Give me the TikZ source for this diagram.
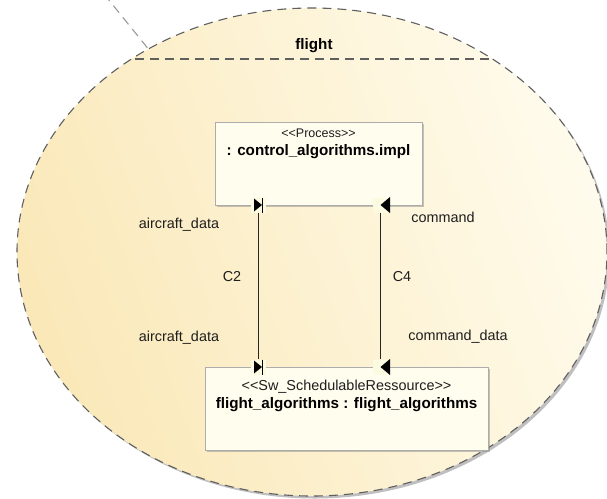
\documentclass[tikz,border=0pt]{standalone}
\usepackage{fontspec}
\setmainfont{Liberation Sans}
\usetikzlibrary{shapes.geometric,shadows}
\definecolor{ellL}{RGB}{250,232,184}
\definecolor{ellR}{RGB}{255,251,236}
\definecolor{boxfill}{RGB}{255,253,238}
\definecolor{portfill}{RGB}{252,250,225}
\definecolor{dashc}{RGB}{95,95,95}
\definecolor{txt}{RGB}{30,30,30}
\begin{document}
\begin{tikzpicture}[x=1pt,y=-1pt,
  regfont/.style={font=\fontsize{14.4}{16}\selectfont},
  boldfont/.style={font=\fontsize{15.2}{17}\selectfont\bfseries},
  lbl/.style={regfont, text=txt, inner sep=0pt},
  ttl/.style={boldfont, text=black, inner sep=0pt},
  comp/.style={rectangle, draw=gray!65, line width=0.8pt, fill=boxfill,
    drop shadow={shadow xshift=2pt, shadow yshift=-2pt, opacity=0.45, fill=gray}},
  port/.style={rectangle, minimum size=15pt, inner sep=0pt, fill=portfill},
  conn/.style={draw=black!85, line width=0.7pt},
  dsh/.style={draw=dashc, line width=1.1pt, dash pattern=on 9pt off 6pt}]
\useasboundingbox (0,0) rectangle (607,498);
% shadow of the ellipse
\fill[gray!50] (314.5,254.5) ellipse [x radius=295pt, y radius=244pt];
\node[ellipse, minimum width=590pt, minimum height=488pt, inner sep=0pt,
  left color=ellL, right color=ellR, shading angle=110, dsh] (flight) at (312,252) {};
\begin{scope}
  \clip (312,252) ellipse [x radius=295pt, y radius=244pt];
  \draw[dsh] (0,59) -- (607,59);
\end{scope}
\node[ttl] (flightlbl) at (314,46) {flight};
% external dashed connector
\coordinate (ext) at (104,-6);
\draw[dsh, draw=gray!80] (ext) -- (flight);
% upper part
\node[comp, minimum width=207pt, minimum height=83pt] (proc) at (318.5,163.5) {};
\node[lbl, font=\fontsize{12.5}{14}\selectfont] (procst) at (318.5,133) {{<}{<}Process{>}{>}};
\node[ttl] (procnm) at (318.5,152) {: control\_algorithms.impl};
% lower part
\node[comp, minimum width=283pt, minimum height=83pt] (fa) at (346.5,408.5) {};
\node[lbl] (fast) at (346.5,387) {{<}{<}Sw\_SchedulableRessource{>}{>}};
\node[ttl] (fanm) at (346.5,405) {flight\_algorithms : flight\_algorithms};
% ports
\node[port] (pa) at (258,205) {};
\node[port] (pb) at (380,205) {};
\node[port] (pc) at (258,367) {};
\node[port] (pd) at (380,367) {};
\foreach \p in {pa,pc}{
  \fill ([xshift=-4pt,yshift=6.5pt]\p.center) -- ([xshift=4pt]\p.center) -- ([xshift=-4pt,yshift=-6.5pt]\p.center) -- cycle;
  \draw[line width=0.9pt] ([xshift=4.6pt,yshift=7.5pt]\p.center) -- ([xshift=4.6pt,yshift=-7.5pt]\p.center);
}
\foreach \p in {pb,pd}{
  \fill ([xshift=0.5pt]\p.center) -- ([xshift=10pt,yshift=8pt]\p.center) -- ([xshift=10pt,yshift=-8pt]\p.center) -- cycle;
}
% connectors
\draw[conn] (pa) -- (pc);
\draw[conn] (pb) -- (pd);
% labels
\node[lbl] (la) at (179,225) {aircraft\_data};
\node[lbl] (lb) at (443,217) {command};
\node[lbl] (c2) at (232,277) {C2};
\node[lbl] (c4) at (402,277) {C4};
\node[lbl] (lc) at (179,338) {aircraft\_data};
\node[lbl] (ld) at (458,337) {command\_data};
\end{tikzpicture}
\end{document}
